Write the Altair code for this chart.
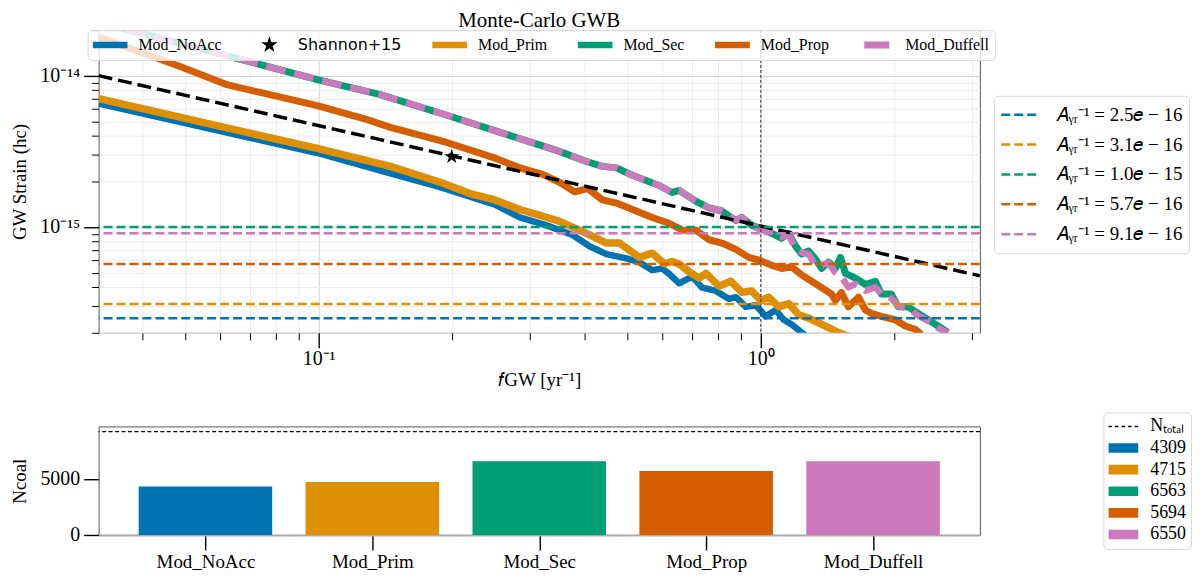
import altair as alt
import pandas as pd

H_UNIT = 1e-15  # strain values below are given in units of 1e-15

# ---- characteristic strain curves (f in yr^-1, h in 1e-15) ----
NOACC_F = [0.0318, 0.0993, 0.1453, 0.1883, 0.2200, 0.2504, 0.2851, 0.3279, 0.3753, 0.4098,
           0.4476, 0.4965, 0.5312, 0.5682, 0.5984, 0.6206, 0.6537, 0.6995, 0.7366, 0.7919,
           0.8471, 0.8784, 0.9252, 0.9744, 1.026, 1.081, 1.127, 1.175, 1.237, 1.30]
NOACC_H = [6.55, 3.085, 2.262, 1.836, 1.587, 1.405, 1.157, 1.025, 0.886, 0.747,
           0.662, 0.621, 0.586, 0.519, 0.532, 0.49, 0.425, 0.471, 0.398, 0.378,
           0.335, 0.344, 0.297, 0.304, 0.257, 0.283, 0.244, 0.227, 0.201, 0.18]

PRIM_F = [0.0318, 0.0993, 0.1453, 0.1883, 0.2200, 0.2504, 0.2851, 0.3279, 0.3508, 0.4035,
          0.4476, 0.4788, 0.5312, 0.5682, 0.6047, 0.6303, 0.6537, 0.6886, 0.7253, 0.7520,
          0.8044, 0.8559, 0.9063, 0.9544, 1.0, 1.042, 1.098, 1.156, 1.218, 1.283,
          1.351, 1.423, 1.498, 1.58]
PRIM_H = [7.05, 3.304, 2.515, 1.975, 1.665, 1.511, 1.306, 1.157, 1.091, 0.907,
          0.784, 0.784, 0.630, 0.672, 0.572, 0.592, 0.57, 0.506, 0.460, 0.494,
          0.407, 0.438, 0.370, 0.378, 0.327, 0.344, 0.297, 0.312, 0.263, 0.250,
          0.233, 0.2165, 0.201, 0.19]

SEC_F = [0.0318, 0.0377, 0.0993, 0.1379, 0.1950, 0.2956, 0.3453, 0.4035, 0.4384, 0.4714,
         0.5123, 0.5892, 0.6303, 0.6537, 0.7141, 0.7638, 0.8170, 0.8784, 0.9063, 0.9544,
         1.0, 1.059, 1.115, 1.156, 1.199, 1.237, 1.283, 1.330, 1.372, 1.423,
         1.475, 1.514, 1.554, 1.637, 1.724, 1.816, 1.873, 1.972, 2.046, 2.154,
         2.269, 2.390, 2.517, 2.651]
SEC_H = [22.6, 19.84, 9.43, 7.50, 5.48, 3.71, 3.21, 2.71, 2.515, 2.458,
         2.197, 1.880, 1.690, 1.747, 1.476, 1.339, 1.276, 1.103, 1.157, 1.025,
         0.976, 0.907, 0.843, 0.907, 0.747, 0.662, 0.695, 0.615, 0.532, 0.586,
         0.532, 0.630, 0.494, 0.460, 0.417, 0.438, 0.361, 0.361, 0.297, 0.297,
         0.269, 0.244, 0.222, 0.201]

PROP_F = [0.0318, 0.0481, 0.0623, 0.0993, 0.1265, 0.1453, 0.1950, 0.2518, 0.2851, 0.3211,
          0.3508, 0.3792, 0.4062, 0.4384, 0.4714, 0.5230, 0.5682, 0.6206, 0.6640, 0.7141,
          0.7638, 0.8170, 0.8784, 0.9397, 1.0, 1.059, 1.115, 1.175, 1.237, 1.303,
          1.372, 1.445, 1.475, 1.522, 1.578, 1.663, 1.724, 1.778, 1.873, 2.014,
          2.121, 2.234, 2.305]
PROP_H = [17.99, 11.62, 8.68, 6.34, 5.21, 4.55, 3.62, 2.84, 2.46, 2.23,
          1.975, 1.707, 1.791, 1.511, 1.439, 1.276, 1.157, 1.06, 0.953, 0.953,
          0.824, 0.784, 0.712, 0.630, 0.600, 0.558, 0.532, 0.545, 0.483, 0.438,
          0.398, 0.361, 0.327, 0.370, 0.297, 0.344, 0.283, 0.269, 0.257, 0.244,
          0.222, 0.211, 0.196]

DUFF_F = [0.0318, 0.0377, 0.0993, 0.1379, 0.1950, 0.2956, 0.3453, 0.4035, 0.4384, 0.4714,
          0.5123, 0.5892, 0.6303, 0.6537, 0.7141, 0.7638, 0.8170, 0.8784, 0.9063, 0.9544,
          1.0, 1.059, 1.115, 1.156, 1.199, 1.237, 1.283, 1.330, 1.372, 1.423,
          1.475, 1.522, 1.578, 1.637, 1.724, 1.816, 1.873, 1.972, 2.046, 2.154,
          2.269, 2.390, 2.517, 2.651]
DUFF_H = [22.6, 19.84, 9.43, 7.50, 5.48, 3.71, 3.21, 2.71, 2.515, 2.458,
          2.197, 1.880, 1.690, 1.747, 1.476, 1.339, 1.276, 1.103, 1.157, 1.025,
          0.96, 0.92, 0.86, 0.89, 0.72, 0.68, 0.66, 0.56, 0.56, 0.58,
          0.50, 0.47, 0.40, 0.42, 0.38, 0.40, 0.36, 0.34, 0.30, 0.29,
          0.26, 0.24, 0.215, 0.20]

# Shannon+15 point and power-law limit line
SHANNON_F = [0.2]
SHANNON_H = [2.92]
PL_F = [0.0318, 3.13]
PL_H = [10.0, 0.476]
F_REF = [1.0]

# horizontal amplitude lines
A_VALUES = [2.5e-16, 3.1e-16, 1.0e-15, 5.7e-16, 9.1e-16]
A_LABELS = ["𝐴ᵧᵣ⁻¹ = 2.5𝑒 − 16", "𝐴ᵧᵣ⁻¹ = 3.1𝑒 − 16", "𝐴ᵧᵣ⁻¹ = 1.0𝑒 − 15",
            "𝐴ᵧᵣ⁻¹ = 5.7𝑒 − 16", "𝐴ᵧᵣ⁻¹ = 9.1𝑒 − 16"]

SERIES = ["Mod_NoAcc", "Shannon+15", "Mod_Prim", "Mod_Sec", "Mod_Prop", "Mod_Duffell"]
BLUE, ORANGE, GREEN, VERM, PINK = "#0173B2", "#DE8F05", "#029E73", "#D55E00", "#CC78BC"
SERIES_COLORS = [BLUE, "#000000", ORANGE, GREEN, VERM, PINK]
COLOR_OF = dict(zip(SERIES, SERIES_COLORS))
A_COLORS = [BLUE, ORANGE, GREEN, VERM, PINK]

# bar chart
MODELS = ["Mod_NoAcc", "Mod_Prim", "Mod_Sec", "Mod_Prop", "Mod_Duffell"]
N_COAL = [4309, 4715, 6563, 5694, 6550]
N_TOTAL = [9200]
NTOT_LABEL = "Nₜₒₜₐₗ"
BAR_COLORS = [BLUE, ORANGE, GREEN, VERM, PINK]

FONT = "Liberation Serif"

STAR = ("M0,-0.5L0.112,-0.155L0.476,-0.155L0.182,0.059L0.294,0.405L0,0.191"
        "L-0.294,0.405L-0.182,0.059L-0.476,-0.155L-0.112,-0.155Z")
LONG_BAR = "M-1,-0.19H1V0.19H-1Z"
SHORT_BAR = "M-0.72,-0.2H0.72V0.2H-0.72Z"
RECT = "M-1,-0.32H1V0.32H-1Z"
DASH = ("M-1,-0.05H-0.76V0.05H-1Z M-0.56,-0.05H-0.32V0.05H-0.56Z M-0.12,-0.05H0.12V0.05H-0.12Z "
        "M0.32,-0.05H0.56V0.05H0.32Z M0.76,-0.05H1V0.05H0.76Z")
SERIES_SHAPES = [LONG_BAR, STAR, LONG_BAR, LONG_BAR, LONG_BAR, SHORT_BAR]


def curve(fs, hs):
    return pd.DataFrame({"f": fs, "h": [v * H_UNIT for v in hs]})


# ---------------- top panel ----------------
X_TICKS = [0.04, 0.05, 0.06, 0.07, 0.08, 0.09, 0.1, 0.2, 0.3, 0.4, 0.5, 0.6, 0.7, 0.8, 0.9, 1, 2, 3]
Y_TICKS = [2e-16, 3e-16, 4e-16, 5e-16, 6e-16, 7e-16, 8e-16, 9e-16, 1e-15,
           2e-15, 3e-15, 4e-15, 5e-15, 6e-15, 7e-15, 8e-15, 9e-15, 1e-14, 2e-14]

XMAJ = "datum.value == 0.1 || datum.value == 1"
YMAJ = "datum.value == 1e-15 || datum.value == 1e-14"

x_axis = alt.Axis(
    values=X_TICKS,
    labelExpr="datum.value == 0.1 ? '10⁻¹' : (datum.value == 1 ? '10⁰' : '')",
    tickSize={"condition": {"test": XMAJ, "value": 15}, "value": 7},
    tickWidth={"condition": {"test": XMAJ, "value": 1.4}, "value": 1},
    tickColor="black",
    grid=True,
    gridColor={"condition": {"test": XMAJ, "value": "#d0d0d0"}, "value": "#ebebeb"},
    gridWidth=1,
    domain=False,
    labelFontSize=20,
    labelPadding=1,
    labelOverlap=False,
    labelFlush=False,
    title="𝑓GW [yr⁻¹]",
    titleFontSize=19,
    titlePadding=2,
)
y_axis = alt.Axis(
    values=Y_TICKS,
    labelExpr="datum.value == 1e-14 ? '10⁻¹⁴' : (datum.value == 1e-15 ? '10⁻¹⁵' : '')",
    tickSize={"condition": {"test": YMAJ, "value": 15}, "value": 7},
    tickWidth={"condition": {"test": YMAJ, "value": 1.4}, "value": 1},
    tickColor="black",
    grid=True,
    gridColor={"condition": {"test": YMAJ, "value": "#d0d0d0"}, "value": "#ebebeb"},
    gridWidth=1,
    domain=False,
    labelFontSize=20,
    labelPadding=4,
    labelOverlap=False,
    labelFlush=False,
    title="GW Strain (hc)",
    titleFontSize=19,
    titlePadding=7,
    minExtent=62,
    maxExtent=62,
)
xs = alt.Scale(type="log", domain=[0.0318, 3.13], nice=False)
ys = alt.Scale(type="log", domain=[2e-16, 2e-14], nice=False)
X = alt.X("f:Q", scale=xs, axis=x_axis)
Y = alt.Y("h:Q", scale=ys, axis=y_axis)
top_color = alt.Scale(domain=SERIES, range=SERIES_COLORS)
top_shape = alt.Scale(domain=SERIES, range=SERIES_SHAPES)


def top_legend():
    return alt.Legend(orient="none", legendX=-11, legendY=0, direction="horizontal",
                      columns=6, title=None, symbolSize=1225, symbolStrokeWidth=0,
                      symbolOpacity=1, labelFontSize=16, labelOffset=11,
                      labelFont=alt.ExprRef(
                          expr=f"datum.value == 'Shannon+15' ? 'DejaVu Sans' : '{FONT}'"),
                      columnPadding=30, padding=5, fillColor="rgba(255,255,255,0.8)",
                      strokeColor="#d9d9d9", cornerRadius=4, clipHeight=20, labelLimit=200)


def line_layer(name, fs, hs, width, dash=False):
    if dash:
        mark = alt.MarkDef(type="line", strokeWidth=width, strokeDash=[20, 9], clip=True,
                           strokeJoin="round", color=COLOR_OF[name])
    else:
        mark = alt.MarkDef(type="line", strokeWidth=width, clip=True,
                           strokeJoin="round", color=COLOR_OF[name])
    return alt.Chart(curve(fs, hs), mark=mark).encode(x=X, y=Y)


l_noacc = line_layer("Mod_NoAcc", NOACC_F, NOACC_H, 6.5)
l_prim = line_layer("Mod_Prim", PRIM_F, PRIM_H, 7.5)
l_sec = line_layer("Mod_Sec", SEC_F, SEC_H, 7)
l_prop = line_layer("Mod_Prop", PROP_F, PROP_H, 7)
l_duff = line_layer("Mod_Duffell", DUFF_F, DUFF_H, 6.5, dash=True)

pl = alt.Chart(curve(PL_F, PL_H)).mark_line(
    color="black", strokeDash=[14, 6], strokeWidth=3.5, clip=True).encode(x=X, y=Y)

a_lines = alt.Chart(pd.DataFrame({"h": A_VALUES, "lab": A_LABELS})).mark_rule(
    strokeDash=[9, 4], strokeWidth=2.5, clip=True).encode(
    y=Y,
    stroke=alt.Stroke("lab:N", scale=alt.Scale(domain=A_LABELS, range=A_COLORS),
                      legend=alt.Legend(orient="none", legendX=899, legendY=66, title=None,
                                        symbolType="stroke", symbolSize=1369,
                                        symbolStrokeWidth=2.5, symbolDash=[9, 4],
                                        labelFontSize=19, labelOffset=16, padding=6,
                                        clipHeight=26, rowPadding=4, fillColor="white",
                                        strokeColor="#d9d9d9", cornerRadius=4,
                                        labelLimit=300)))

vline = alt.Chart(pd.DataFrame({"f": F_REF})).mark_rule(
    strokeDash=[3, 2], strokeWidth=1, color="#333333").encode(x=X)

star = alt.Chart(pd.DataFrame({"f": SHANNON_F, "h": [v * H_UNIT for v in SHANNON_H],
                               "series": ["Shannon+15"]})).mark_point(
    filled=True, size=1000, opacity=1).encode(
    x=X, y=Y,
    color=alt.Color("series:N", scale=top_color, legend=top_legend()),
    shape=alt.Shape("series:N", scale=top_shape, legend=top_legend()))

top = alt.layer(l_noacc, l_prim, l_sec, l_prop, l_duff, pl, a_lines, vline, star).properties(
    width=885, height=304,
    title=alt.Title("Monte-Carlo GWB", frame="group", anchor="middle", fontSize=21,
                    font=FONT, fontWeight="normal", offset=-11))

# ---------------- bottom panel ----------------
bars_df = pd.DataFrame({
    "idx": list(range(len(MODELS))),
    "model": MODELS,
    "count": N_COAL,
    "base": [0] * len(MODELS),
    "leg": [str(c) for c in N_COAL],
})
bars_df["lo"] = bars_df["idx"] - 0.4
bars_df["hi"] = bars_df["idx"] + 0.4

names_js = "[" + ",".join(f"'{m}'" for m in MODELS) + "]"
xb_scale = alt.Scale(domain=[-0.64, 4.64], nice=False, zero=False)
yb_scale = alt.Scale(domain=[0, 9660], nice=False)
xb_axis = alt.Axis(values=list(range(len(MODELS))), labelExpr=f"{names_js}[datum.value]",
                   tickSize=15, tickWidth=1.4, tickColor="black", grid=False,
                   domain=True, domainColor="#aaaaaa", domainWidth=2,
                   labelFontSize=19, labelPadding=3, title=None,
                   labelOverlap=False, labelFlush=False)
yb_axis = alt.Axis(values=[0, 5000], format="d", tickSize=15, tickWidth=1.4, tickColor="black",
                   grid=False, domain=False, labelFontSize=20, labelPadding=4, title="Ncoal",
                   titleFontSize=19, titlePadding=7, minExtent=62, maxExtent=62)

LEG_DOMAIN = [NTOT_LABEL] + [str(c) for c in N_COAL]
bar_color = alt.Scale(domain=LEG_DOMAIN, range=["#000000"] + BAR_COLORS)
bar_shape = alt.Scale(domain=LEG_DOMAIN, range=[DASH] + [RECT] * len(N_COAL))


def bottom_legend():
    return alt.Legend(orient="none", legendX=1009, legendY=-14, title=None,
                      symbolSize=900, symbolStrokeWidth=0, symbolOpacity=1,
                      labelFontSize=18, labelOffset=12, padding=5,
                      clipHeight=18, rowPadding=3.7, fillColor="white",
                      strokeColor="#d9d9d9", cornerRadius=4)


XB = alt.X("lo:Q", scale=xb_scale, axis=xb_axis)
YB = alt.Y("count:Q", scale=yb_scale, axis=yb_axis)

# legend-only layer (no rows), placed first so its key is the one that is kept
bar_key = alt.Chart(alt.Data(values=[])).mark_point(filled=True, opacity=1).encode(
    x=XB, y=YB,
    color=alt.Color("leg:N", scale=bar_color, legend=bottom_legend()),
    shape=alt.Shape("leg:N", scale=bar_shape, legend=bottom_legend()))

bars = alt.Chart(bars_df).mark_bar().encode(
    x=XB, x2="hi:Q", y=YB, y2="base:Q",
    color=alt.Color("leg:N", scale=bar_color, legend=bottom_legend()))

ntot = alt.Chart(pd.DataFrame({"count": N_TOTAL})).mark_rule(
    strokeDash=[4, 2.5], strokeWidth=1.3, color="black").encode(y=YB)

bottom = alt.layer(bar_key, bars, ntot).properties(width=885, height=109)

chart = alt.vconcat(top, bottom, spacing=21).resolve_scale(
    color="independent", shape="independent", stroke="independent"
).resolve_legend(
    color="independent", shape="independent", stroke="independent"
).properties(
    padding={"left": 2, "top": 0, "right": 0, "bottom": 0}
).configure_view(stroke="#555555", strokeWidth=1).configure_axis(
    labelFont=FONT, titleFont=FONT, titleFontWeight="normal",
    labelColor="black", titleColor="black"
).configure_legend(labelFont=FONT, labelColor="black")

chart.save("out.html", embed_options={"renderer": "svg", "actions": False})
